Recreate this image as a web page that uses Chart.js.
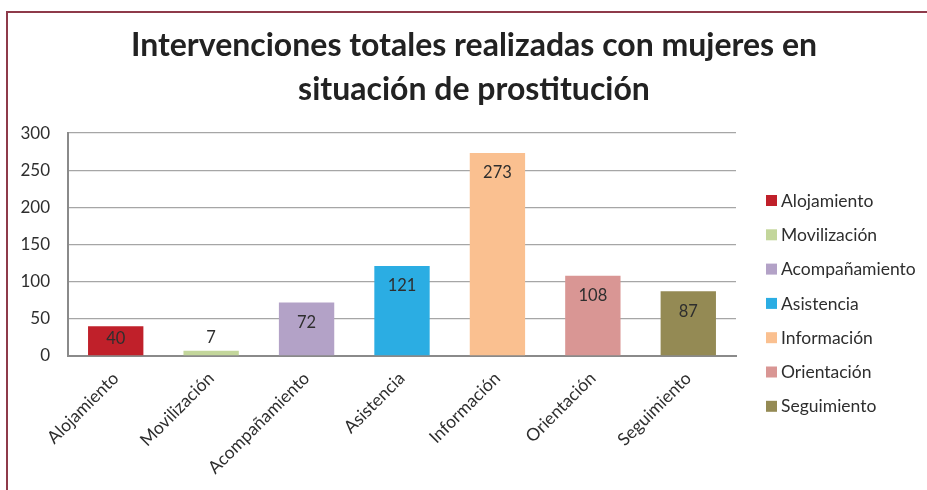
<!DOCTYPE html>
<html>
<head>
<meta charset="utf-8">
<script src="https://cdn.jsdelivr.net/npm/chart.js@4.4.1/dist/chart.umd.min.js"></script>
<style>
  html, body { margin: 0; padding: 0; background: #fff; }
  #wrap { position: relative; width: 927px; height: 490px; overflow: hidden; }
  #frame { position: absolute; left: 6px; top: 11px; width: 940px; height: 500px;
           border-left: 2px solid #8e3a4a; border-top: 2px solid #8e3a4a; box-sizing: border-box; }
  canvas { position: absolute; left: 0; top: 0; }
</style>
</head>
<body>
<div id="wrap">
  <div id="frame"></div>
  <canvas id="c" width="927" height="490"></canvas>
</div>
<script>
const titleLines = ["Intervenciones totales realizadas con mujeres en", "situación de prostitución"];
const categories = ["Alojamiento", "Movilización", "Acompañamiento", "Asistencia", "Información", "Orientación", "Seguimiento"];
const values = [40, 7, 72, 121, 273, 108, 87];
const barColors = ["#C0202A", "#C3D69B", "#B3A2C7", "#2BADE3", "#FAC090", "#D99694", "#948A54"];
const yTicks = [0, 50, 100, 150, 200, 250, 300];

const FONT = "Lato, 'Open Sans', sans-serif";

const valueLabels = {
  id: 'valueLabels',
  afterDatasetsDraw(chart) {
    const ctx = chart.ctx;
    const meta = chart.getDatasetMeta(0);
    ctx.save();
    ctx.font = "16.5px " + FONT;
    ctx.fillStyle = "#2e2e2e";
    ctx.textAlign = "center";
    ctx.textBaseline = "middle";
    meta.data.forEach((bar, i) => {
      const h = bar.base - bar.y;
      let y;
      if (h > 22) y = bar.y + Math.min(20, h / 2 - 2);
      else y = bar.y - 13;
      ctx.fillText(String(values[i]), bar.x, y);
    });
    ctx.restore();
  }
};

const sideLegend = {
  id: 'sideLegend',
  afterDraw(chart) {
    const ctx = chart.ctx;
    ctx.save();
    ctx.font = "17.5px " + FONT;
    ctx.textAlign = "left";
    ctx.textBaseline = "middle";
    const x0 = 766, y0 = 200.5, step = 34.3;
    categories.forEach((c, i) => {
      const y = y0 + i * step;
      ctx.fillStyle = barColors[i];
      ctx.fillRect(x0, y - 5.5, 11, 11);
      ctx.fillStyle = "#2e2e2e";
      ctx.fillText(c, x0 + 15, y + 0.5);
    });
    ctx.restore();
  }
};

new Chart(document.getElementById('c'), {
  type: 'bar',
  data: {
    labels: categories,
    datasets: [{
      data: values,
      backgroundColor: barColors,
      borderWidth: 0,
      barPercentage: 0.58,
      categoryPercentage: 1.0
    }]
  },
  options: {
    responsive: false,
    animation: false,
    layout: { padding: { left: 21, right: 0, top: 24, bottom: 0 } },
    plugins: {
      legend: { display: false },
      tooltip: { enabled: false },
      title: {
        display: true,
        text: titleLines,
        color: "#222222",
        font: { family: FONT, size: 32, weight: 'bold', lineHeight: 1.36 },
        padding: { top: 0, bottom: 22 }
      }
    },
    scales: {
      x: {
        grid: { display: false },
        border: { display: true, color: "#8a8a8a", width: 2 },
        ticks: {
          color: "#2e2e2e",
          font: { family: FONT, size: 17.5 },
          minRotation: 45, maxRotation: 45,
          padding: 4
        },
        afterFit(scale) { scale.height = 134; }
      },
      y: {
        min: 0, max: 300,
        afterBuildTicks(scale) { scale.ticks = yTicks.map(v => ({ value: v })); },
        grid: { color: "#a6a6a6", lineWidth: 1.3, drawTicks: false },
        border: { display: true, color: "#8a8a8a", width: 2 },
        ticks: {
          color: "#2e2e2e",
          font: { family: FONT, size: 17 },
          padding: 18
        },
        afterFit(scale) { scale.width = 47; }
      },
      side: {
        position: 'right',
        display: true,
        grid: { display: false, drawTicks: false },
        border: { display: false },
        ticks: { display: false },
        afterFit(scale) { scale.width = 191; }
      }
    }
  },
  plugins: [valueLabels, sideLegend]
});
</script>
</body>
</html>
